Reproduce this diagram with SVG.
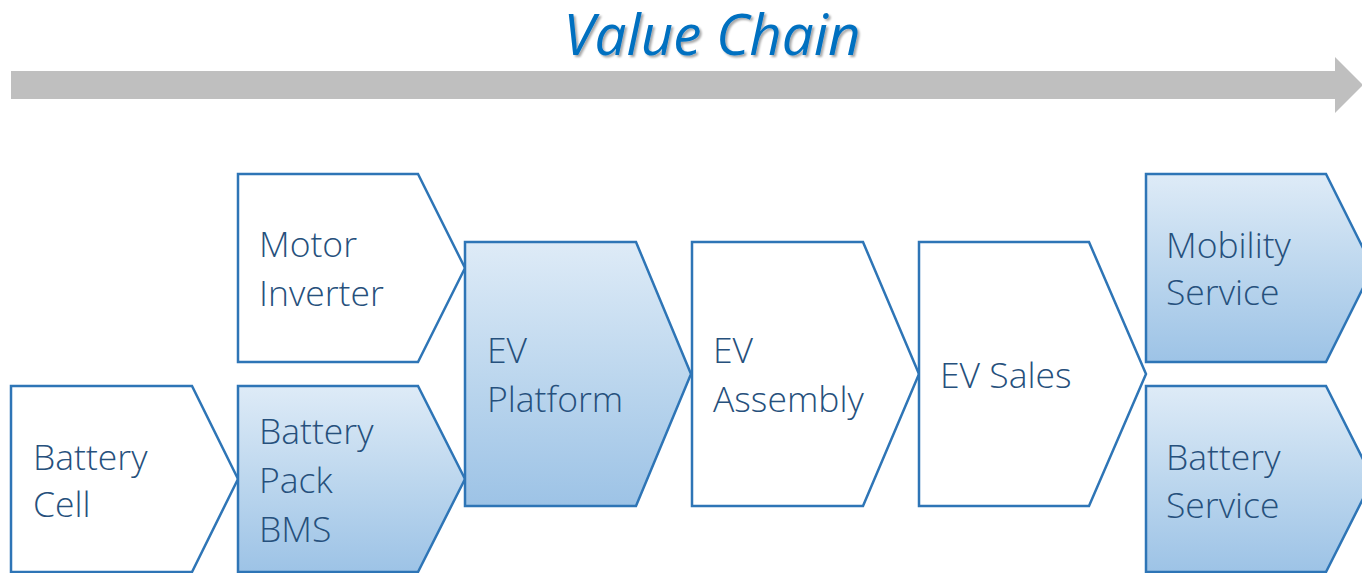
<svg xmlns="http://www.w3.org/2000/svg" width="1362" height="573" viewBox="0 0 1362 573">
  <defs>
    <linearGradient id="blueGrad" x1="0" y1="0" x2="0" y2="1">
      <stop offset="0" stop-color="#DEEBF7"/>
      <stop offset="0.5" stop-color="#BDD7EE"/>
      <stop offset="1" stop-color="#9DC3E6"/>
    </linearGradient>
    <filter id="shadow" filterUnits="userSpaceOnUse" x="480" y="0" width="460" height="90">
      <feDropShadow dx="2" dy="2" stdDeviation="1.2" flood-color="#000" flood-opacity="0.35"/>
    </filter>
    <style>
      .node { stroke: #2E75B6; stroke-width: 2.5; stroke-linejoin: miter; }
      .plain { fill: #FFFFFF; }
      .shaded { fill: url(#blueGrad); }
      .label { font-family: "Open Sans", "Noto Sans", "DejaVu Sans", sans-serif; font-weight: 300; font-size: 35.5px; fill: #26507C; }
      .title { font-family: "Open Sans", "Noto Sans", "DejaVu Sans", sans-serif; font-style: italic; font-size: 56.5px; fill: #0070C0; }
    </style>
  </defs>
  <rect width="1362" height="573" fill="#FFFFFF"/>

  <text class="title" x="712" y="55" text-anchor="middle" filter="url(#shadow)">Value Chain</text>

  <g id="connectors">
    <polygon id="value-arrow" points="11,71 1335,71 1335,57 1363,85 1335,113 1335,99 11,99" fill="#BFBFBF"/>
  </g>

  <g id="battery-cell">
    <polygon class="node plain" points="11,386 192,386 238,479 192,572 11,572"/>
    <text class="label"><tspan x="33" y="470">Battery</tspan><tspan x="33" y="517">Cell</tspan></text>
  </g>

  <g id="motor-inverter">
    <polygon class="node plain" points="238,174 418,174 465,268 418,362 238,362"/>
    <text class="label"><tspan x="259" y="257">Motor</tspan><tspan x="259" y="306">Inverter</tspan></text>
  </g>

  <g id="battery-pack-bms">
    <polygon class="node shaded" points="238,386 418,386 465,479 418,572 238,572"/>
    <text class="label"><tspan x="259" y="444">Battery</tspan><tspan x="259" y="493">Pack</tspan><tspan x="259" y="542">BMS</tspan></text>
  </g>

  <g id="ev-platform">
    <polygon class="node shaded" points="465,242 636,242 691,374 636,506 465,506"/>
    <text class="label"><tspan x="487" y="363">EV</tspan><tspan x="487" y="412">Platform</tspan></text>
  </g>

  <g id="ev-assembly">
    <polygon class="node plain" points="692,242 863,242 919,374 863,506 692,506"/>
    <text class="label"><tspan x="713" y="363">EV</tspan><tspan x="713" y="412">Assembly</tspan></text>
  </g>

  <g id="ev-sales">
    <polygon class="node plain" points="919,242 1089,242 1146,374 1089,506 919,506"/>
    <text class="label" x="940" y="388">EV Sales</text>
  </g>

  <g id="mobility-service">
    <polygon class="node shaded" points="1146,174 1326,174 1373,268 1326,362 1146,362"/>
    <text class="label"><tspan x="1166" y="258">Mobility</tspan><tspan x="1166" y="305">Service</tspan></text>
  </g>

  <g id="battery-service">
    <polygon class="node shaded" points="1146,386 1326,386 1373,479 1326,572 1146,572"/>
    <text class="label"><tspan x="1166" y="470">Battery</tspan><tspan x="1166" y="518">Service</tspan></text>
  </g>
</svg>
